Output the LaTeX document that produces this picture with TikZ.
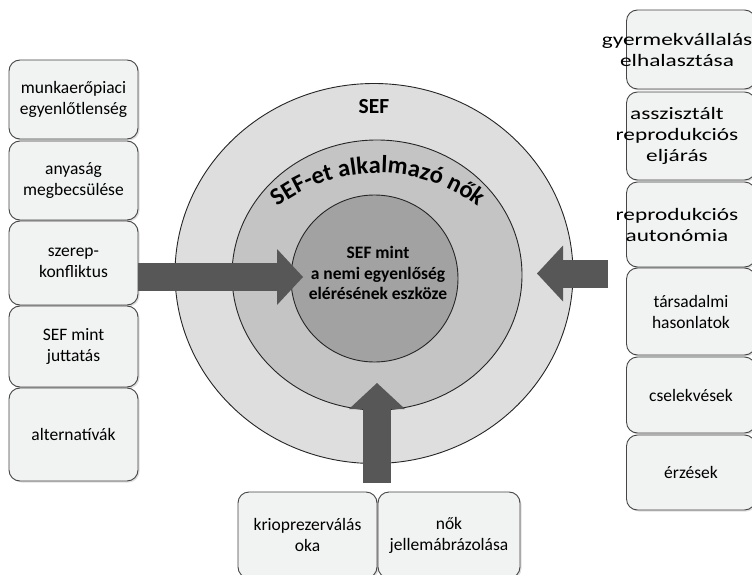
\documentclass[tikz,border=0pt]{standalone}
\usepackage{fontspec}
\setmainfont{Carlito}
\newfontfamily\widefont[FakeStretch=1.33]{Carlito}
\usetikzlibrary{shapes.geometric,arrows.meta,shadows,decorations.text}

\definecolor{ringout}{HTML}{DEDEDE}
\definecolor{ringmid}{HTML}{C4C4C4}
\definecolor{ringin}{HTML}{A2A2A2}
\definecolor{arrowgray}{HTML}{575757}
\definecolor{boxfill}{HTML}{F1F2F2}
\definecolor{boxline}{HTML}{454545}

\newcommand{\wideline}[1]{\makebox[0pt]{\hspace*{-28pt}#1}}

\tikzset{
  box/.style={draw=boxline, fill=boxfill, rounded corners=11pt, line width=0.9pt,
    minimum width=129pt, inner sep=0pt, align=center,
    font=\fontsize{17.5}{21}\selectfont,
    drop shadow={shadow xshift=1.5pt, shadow yshift=-1.5pt, opacity=0.25}},
  widebox/.style={box, font=\widefont\fontsize{17.5}{21}\selectfont},
  ring/.style={draw=black!85, line width=0.9pt},
  bigarrow/.style={draw=arrowgray, line width=28pt,
    -{Triangle[width=56pt, length=26pt, line width=0pt]}}
}

\begin{document}
\begin{tikzpicture}[x=1pt, y=1pt]
  \clip (0,0) rectangle (752,574);
  \fill[white] (0,0) rectangle (752,574);

  % rings
  \filldraw[ring, fill=ringout] (374,300.5) ellipse [x radius=199, y radius=190];
  \filldraw[ring, fill=ringmid] (377,299) ellipse [x radius=145, y radius=135];
  \filldraw[ring, fill=ringin] (374.5,295.5) circle [radius=83.5];

  \path
    (374,467) node[font=\fontsize{21.5}{21.5}\selectfont\bfseries] (sef) {SEF}
    (378,301) node[align=center, font=\fontsize{17.5}{20.5}\selectfont\bfseries] (eszkoz)
      {SEF mint\\a nemi egyenlőség\\elérésének eszköze};
  \path[decorate, decoration={text along path, text align=center,
      text={|\fontsize{24.5}{24.5}\selectfont\bfseries|SEF-et alkalmazó nők}}]
    (378,236) ++(140:165) arc[start angle=140, end angle=40, radius=165];

  % left column
  \path
    (73.5,474.5) node[box, minimum height=79pt] (munkaeropiaci) {munkaerőpiaci\\egyenlőtlenség}
    (73.5,393.5) node[box, minimum height=79pt] (anyasag) {anyaság\\megbecsülése}
    (73.5,311) node[box, minimum height=84pt] (szerep) {szerep-\\konfliktus}
    (73.5,227.5) node[box, minimum height=81pt] (juttatas) {SEF mint\\juttatás}
    (73.5,139.5) node[box, minimum height=93pt] (alternativak) {alternatívák};

  % right column
  \path
    (691,524.5) node[widebox, minimum height=79pt] (halasztas)
      {\wideline{gyermekvállalás}\\\wideline{elhalasztása}}
    (691,438) node[widebox, minimum height=88pt] (asszisztalt)
      {\wideline{asszisztált}\\\wideline{reprodukciós}\\\wideline{eljárás}}
    (691,349.5) node[widebox, minimum height=85pt] (autonomia)
      {\wideline{reprodukciós}\\\wideline{autonómia}}
    (691,262.5) node[box, minimum height=87pt] (hasonlatok) {társadalmi\\hasonlatok}
    (691,179) node[box, minimum height=76pt] (cselekvesek) {cselekvések}
    (691,101.5) node[box, minimum height=75pt] (erzesek) {érzések};

  % bottom row
  \path
    (307.5,39) node[box, minimum width=139pt, minimum height=86pt] (krio) {krioprezerválás\\oka}
    (449,39) node[box, minimum width=142pt, minimum height=86pt] (jellem) {nők\\jellemábrázolása};

  % arrows
  \coordinate (lefttail) at (138,297);
  \coordinate (lefttip) at (303,297);
  \coordinate (righttail) at (608,300.5);
  \coordinate (righttip) at (537,300.5);
  \coordinate (bottomtail) at (377,91);
  \coordinate (bottomtip) at (377,191);
  \begin{scope}[bigarrow]
    \draw (lefttail) to (lefttip);
    \draw (righttail) to (righttip);
    \draw (bottomtail) to (bottomtip);
  \end{scope}
\end{tikzpicture}
\end{document}
